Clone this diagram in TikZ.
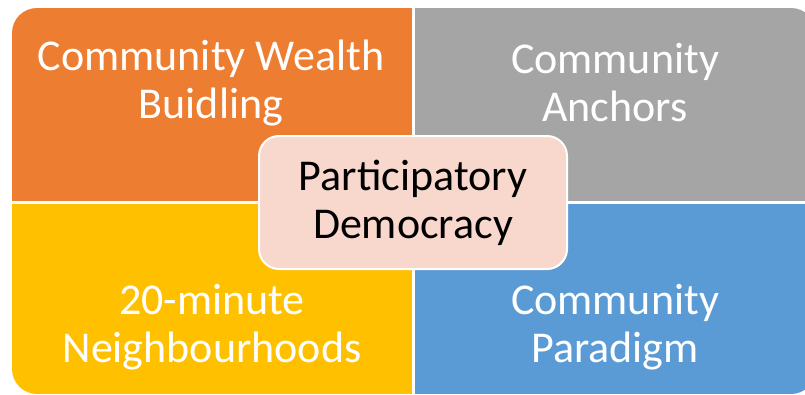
\documentclass[tikz,border=0pt]{standalone}
\usepackage{fontspec}
\setmainfont{Carlito}
\usetikzlibrary{positioning}

\definecolor{wealthorange}{HTML}{ED7D31}
\definecolor{anchorgray}{HTML}{A5A5A5}
\definecolor{minuteyellow}{HTML}{FFC000}
\definecolor{paradigmblue}{HTML}{5B9BD5}
\definecolor{democpink}{HTML}{F8D8CD}

\begin{document}
\begin{tikzpicture}[
        x=1pt, y=-1pt,
        font=\fontsize{44}{48}\selectfont,
        quadtext/.style={text=white, align=center, anchor=center, inner sep=0pt},
        hubbox/.style={draw=white, line width=2pt, fill=democpink, rounded corners=20pt,
            minimum width=308pt, minimum height=133pt, align=center, inner sep=0pt}
    ]
    \useasboundingbox (0,0) rectangle (805,394);

    % --- Quadrants (outer corners rounded by the clip) ---
    \begin{scope}
    \clip[rounded corners=25pt] (12,8) rectangle (816,394);
    \fill[wealthorange] (12,8) rectangle (412,201);
    \fill[anchorgray] (414.5,8) rectangle (816,201);
    \fill[minuteyellow] (12,204) rectangle (412,394);
    \fill[paradigmblue] (414.5,204) rectangle (816,394);
    \end{scope}

    % Quadrant labels
    \node[quadtext] (wealth) at (211,83) {Community Wealth\\Buidling};
    \node[quadtext] (anchors) at (615,83) {Community\\Anchors};
    \node[quadtext] (minute) at (212,327) {20-minute\\Neighbourhoods};
    \node[quadtext] (paradigm) at (615,327) {Community\\Paradigm};

    % --- Centre box ---
    \node[hubbox] (democracy) at (413,202.5) {Participatory\\Democracy};

\end{tikzpicture}
\end{document}
